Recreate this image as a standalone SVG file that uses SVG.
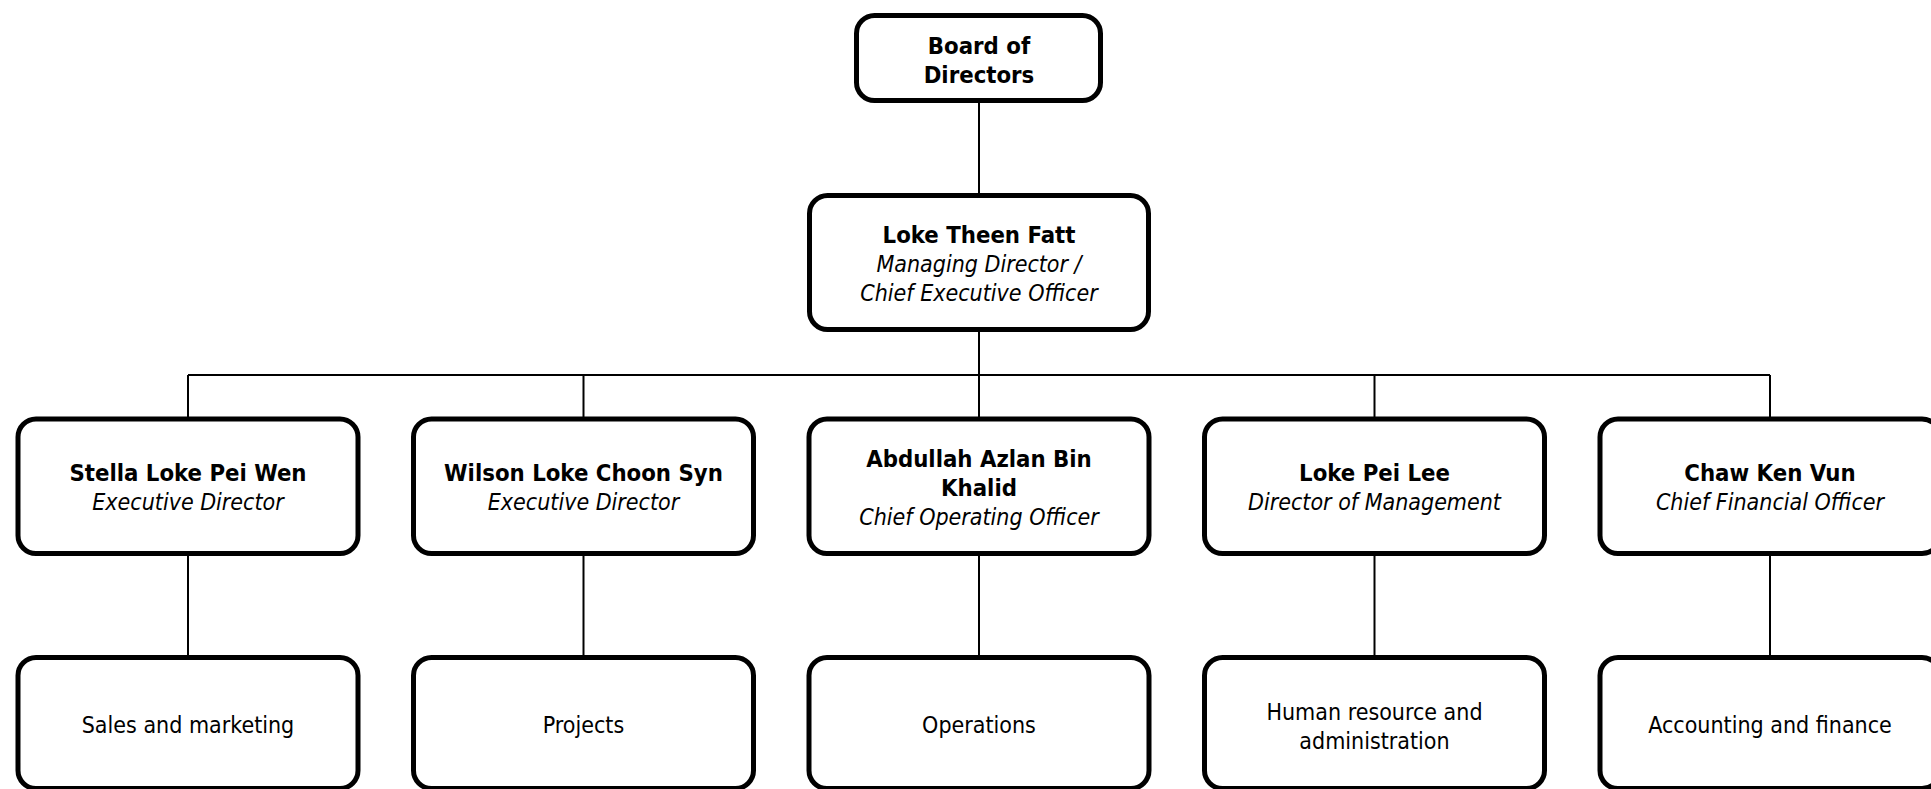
<svg xmlns="http://www.w3.org/2000/svg" width="1931" height="789" viewBox="0 0 1931 789">
<style>
  .box { fill: #ffffff; stroke: #000000; stroke-width: 5; }
  .conn { fill: none; stroke: #000000; stroke-width: 2; }
  text { font-family: "DejaVu Sans Condensed", "DejaVu Sans", sans-serif; font-size: 23px; fill: #000000; text-anchor: middle; font-stretch: condensed; }
  .b { font-weight: bold; font-size: 23.7px; }
  .i { font-style: italic; }
</style>
<rect width="1931" height="789" fill="#ffffff"/>
<g id="connectors">
  <line class="conn" x1="979" y1="103" x2="979" y2="193"/>
  <line class="conn" x1="979" y1="332" x2="979" y2="417"/>
  <line class="conn" x1="188" y1="375" x2="1770" y2="375"/>
  <line class="conn" x1="188" y1="375" x2="188" y2="417"/>
  <line class="conn" x1="583.5" y1="375" x2="583.5" y2="417"/>
  <line class="conn" x1="1374.5" y1="375" x2="1374.5" y2="417"/>
  <line class="conn" x1="1770" y1="375" x2="1770" y2="417"/>
  <line class="conn" x1="188" y1="556" x2="188" y2="655"/>
  <line class="conn" x1="583.5" y1="556" x2="583.5" y2="655"/>
  <line class="conn" x1="979" y1="556" x2="979" y2="655"/>
  <line class="conn" x1="1374.5" y1="556" x2="1374.5" y2="655"/>
  <line class="conn" x1="1770" y1="556" x2="1770" y2="655"/>
</g>
<g id="board">
  <rect class="box" x="856.5" y="15.5" width="244" height="85" rx="18"/>
  <text class="b" x="979" y="54">Board of</text>
  <text class="b" x="979" y="83">Directors</text>
</g>
<g id="ceo">
  <rect class="box" x="809.5" y="195.5" width="339" height="134" rx="18"/>
  <text class="b" x="979" y="242.5">Loke Theen Fatt</text>
  <text class="i" x="979" y="271.5">Managing Director /</text>
  <text class="i" x="979" y="300.5">Chief Executive Officer</text>
</g>
<g id="stella">
  <rect class="box" x="18" y="419" width="340" height="134.5" rx="18"/>
  <text class="b" x="188" y="481">Stella Loke Pei Wen</text>
  <text class="i" x="188" y="510">Executive Director</text>
</g>
<g id="wilson">
  <rect class="box" x="413.5" y="419" width="340" height="134.5" rx="18"/>
  <text class="b" x="583.5" y="481">Wilson Loke Choon Syn</text>
  <text class="i" x="583.5" y="510">Executive Director</text>
</g>
<g id="abdullah">
  <rect class="box" x="809" y="419" width="340" height="134.5" rx="18"/>
  <text class="b" x="979" y="467">Abdullah Azlan Bin</text>
  <text class="b" x="979" y="496">Khalid</text>
  <text class="i" x="979" y="525">Chief Operating Officer</text>
</g>
<g id="lokepeilee">
  <rect class="box" x="1204.5" y="419" width="340" height="134.5" rx="18"/>
  <text class="b" x="1374.5" y="481">Loke Pei Lee</text>
  <text class="i" x="1374.5" y="510">Director of Management</text>
</g>
<g id="chaw">
  <rect class="box" x="1600" y="419" width="340" height="134.5" rx="18"/>
  <text class="b" x="1770" y="481">Chaw Ken Vun</text>
  <text class="i" x="1770" y="510">Chief Financial Officer</text>
</g>
<g id="sales">
  <rect class="box" x="18" y="657.5" width="340" height="131" rx="18"/>
  <text x="188" y="733">Sales and marketing</text>
</g>
<g id="projects">
  <rect class="box" x="413.5" y="657.5" width="340" height="131" rx="18"/>
  <text x="583.5" y="733">Projects</text>
</g>
<g id="operations">
  <rect class="box" x="809" y="657.5" width="340" height="131" rx="18"/>
  <text x="979" y="733">Operations</text>
</g>
<g id="hr">
  <rect class="box" x="1204.5" y="657.5" width="340" height="131" rx="18"/>
  <text x="1374.5" y="719.5">Human resource and</text>
  <text x="1374.5" y="748.5">administration</text>
</g>
<g id="accounting">
  <rect class="box" x="1600" y="657.5" width="340" height="131" rx="18"/>
  <text x="1770" y="733">Accounting and finance</text>
</g>
</svg>
